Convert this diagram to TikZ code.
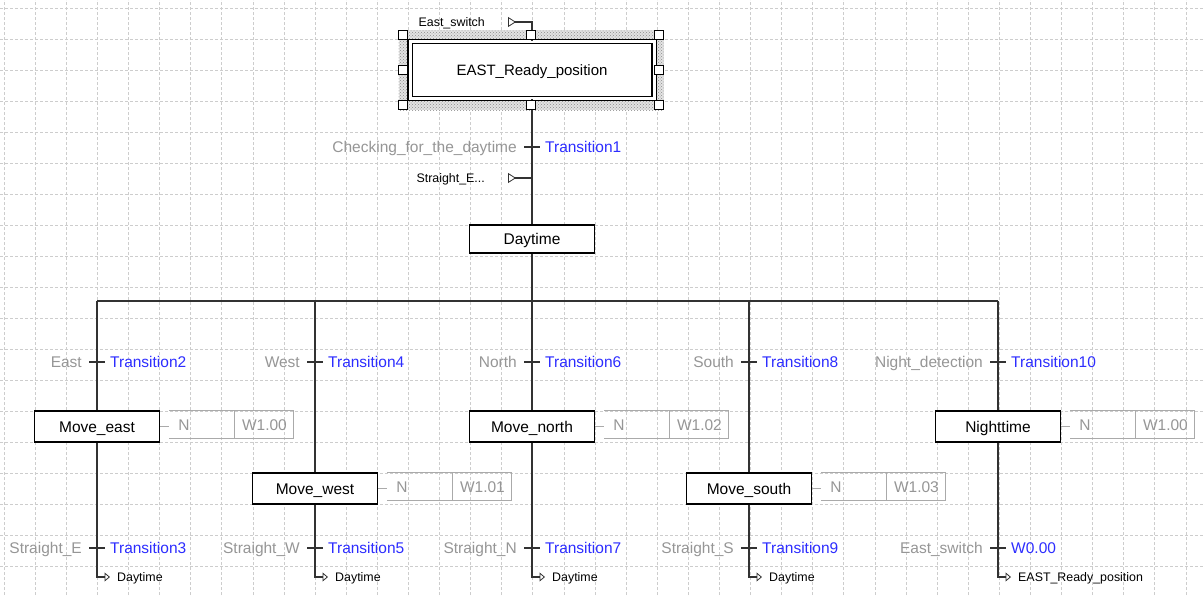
\documentclass[tikz,border=0pt]{standalone}
\usepackage{fontspec}
\setmainfont{Liberation Sans}
\usetikzlibrary{positioning,arrows.meta,patterns}
\definecolor{condgray}{RGB}{150,150,150}
\definecolor{transblue}{RGB}{45,45,255}
\definecolor{wiregray}{RGB}{50,50,50}
\definecolor{gridgray}{RGB}{205,205,205}
\definecolor{actgray}{RGB}{170,170,170}
\begin{document}
\begin{tikzpicture}[
  x=1pt, y=-1pt,
  stepbox/.style={draw=black, fill=white, line width=1.1pt, minimum width=125pt, minimum height=31pt,
    inner sep=0pt, text height=11pt, text depth=0pt, font=\fontsize{15.5}{18}\selectfont},
  initbox/.style={draw=black, fill=white, double=white, double distance=3pt, line width=1.1pt,
    minimum width=244pt, minimum height=57pt, inner sep=0pt, text height=11pt, text depth=0pt,
    font=\fontsize{15}{18}\selectfont},
  selframe/.style={fill=gray!22, postaction={pattern=crosshatch dots, pattern color=gray!90},
    minimum width=265pt, minimum height=80pt, inner sep=0pt},
  handle/.style={draw=black, fill=white, line width=0.8pt, minimum size=9pt, inner sep=0pt},
  wire/.style={draw=wiregray, line width=1.2pt},
  inwire/.style={wire, {Triangle[open, reversed, length=8pt, width=10pt, line width=0.8pt]}-},
  actline/.style={draw=actgray, line width=0.9pt},
  cond/.style={text=condgray, inner sep=0pt, text height=11pt, text depth=0pt, font=\fontsize{15.5}{18}\selectfont},
  trname/.style={cond, text=transblue},
  small/.style={inner sep=0pt, text height=9pt, text depth=0pt, font=\fontsize{12.4}{14}\selectfont},
  jumplbl/.style={small, anchor=west, inner xsep=7pt},
  jump/.style={wire, -{Triangle[open, length=5.5pt, width=9pt, line width=0.8pt]}},
  actq/.style={minimum height=28pt, text width=47pt, inner xsep=9pt, inner ysep=0pt, align=left,
    text=condgray, text height=11pt, text depth=0pt, font=\fontsize{15.5}{18}\selectfont},
  actv/.style={actline, minimum height=28pt, minimum width=59pt, inner sep=0pt, text=condgray,
    text height=11pt, text depth=0pt, font=\fontsize{15.5}{18}\selectfont},
  gridline/.style={gridgray, densely dashed, line width=0.6pt}
]
\fill[white] (0,0) rectangle (1203,595);
\useasboundingbox (0,0) rectangle (1203,595);
\draw[gridline, shift={(4,8)}, xstep=31.1pt, ystep=31pt] (-4,-8) grid (1199,587);

% initial step (selected)
\node[selframe] (sel) at (531,70) {};
\node[initbox] (ready) at (532,70) {EAST\_Ready\_position};
\coordinate (inA) at (508,22);
\node[small, left=23pt of inA] (inAlbl) {East\_switch};

\coordinate (t1) at (532,147);
\node[cond, left=15pt of t1] (c1) {Checking\_for\_the\_daytime};
\node[trname, right=13pt of t1] (n1) {Transition1};
\coordinate (inB) at (508,178);
\node[small, left=23pt of inB] (inBlbl) {Straight\_E...};
\coordinate (joinB) at (532,178);

\node[stepbox, minimum height=28pt] (daytime) at (532,239) {Daytime};

\draw[wire] (ready) -- (daytime);
\draw[inwire] (inA) -| (ready.north);
\draw[inwire] (inB) -- (joinB);
\draw[wire] ([xshift=-8pt]t1) -- ([xshift=8pt]t1);

% selection handles
\node[handle, anchor=north west] (hnw) at (sel.north west) {};
\node[handle, anchor=north] (hn) at (sel.north) {};
\node[handle, anchor=north east] (hne) at (sel.north east) {};
\node[handle, anchor=west] (hw) at (sel.west) {};
\node[handle, anchor=east] (he) at (sel.east) {};
\node[handle, anchor=south west] (hsw) at (sel.south west) {};
\node[handle, anchor=south] (hs) at (sel.south) {};
\node[handle, anchor=south east] (hse) at (sel.south east) {};

% divergence
\coordinate (bus1) at (97,301);
\coordinate (bus2) at (315,301);
\coordinate (bus3) at (532,301);
\coordinate (bus4) at (749,301);
\coordinate (bus5) at (998,301);
\draw[wire] (bus1) -- (bus5);
\draw[wire] (daytime) -- (bus3);

% east
\coordinate (t2) at (97,362);
\node[cond, left=15pt of t2] (c2) {East};
\node[trname, right=13pt of t2] (n2) {Transition2};
\node[stepbox] (moveeast) at (97,426.5) {Move\_east};
\node[actq, right=9pt of moveeast.north east, anchor=north west] (aq1) {N};
\node[actv, right=0pt of aq1] (av1) {W1.00};
\coordinate (t3) at (97,548);
\node[cond, left=15pt of t3] (c3) {Straight\_E};
\node[trname, right=13pt of t3] (n3) {Transition3};
\node[jumplbl] (j1) at (110,577) {Daytime};
\draw[wire] (bus1) -- (moveeast);
\draw[jump] (moveeast) |- (j1.west);
\draw[wire] ([xshift=-8pt]t2) -- ([xshift=8pt]t2);
\draw[wire] ([xshift=-8pt]t3) -- ([xshift=8pt]t3);
\draw[actline] (moveeast) -- (aq1.west |- moveeast);
\draw[actline] (aq1.north west) -- (aq1.north east) (aq1.south west) -- (aq1.south east);

% west
\coordinate (t4) at (315,362);
\node[cond, left=15pt of t4] (c4) {West};
\node[trname, right=13pt of t4] (n4) {Transition4};
\node[stepbox] (movewest) at (315,488.5) {Move\_west};
\node[actq, right=9pt of movewest.north east, anchor=north west] (aq2) {N};
\node[actv, right=0pt of aq2] (av2) {W1.01};
\coordinate (t5) at (315,548);
\node[cond, left=15pt of t5] (c5) {Straight\_W};
\node[trname, right=13pt of t5] (n5) {Transition5};
\node[jumplbl] (j2) at (328,577) {Daytime};
\draw[wire] (bus2) -- (movewest);
\draw[jump] (movewest) |- (j2.west);
\draw[wire] ([xshift=-8pt]t4) -- ([xshift=8pt]t4);
\draw[wire] ([xshift=-8pt]t5) -- ([xshift=8pt]t5);
\draw[actline] (movewest) -- (aq2.west |- movewest);
\draw[actline] (aq2.north west) -- (aq2.north east) (aq2.south west) -- (aq2.south east);

% north
\coordinate (t6) at (532,362);
\node[cond, left=15pt of t6] (c6) {North};
\node[trname, right=13pt of t6] (n6) {Transition6};
\node[stepbox] (movenorth) at (532,426.5) {Move\_north};
\node[actq, right=9pt of movenorth.north east, anchor=north west] (aq3) {N};
\node[actv, right=0pt of aq3] (av3) {W1.02};
\coordinate (t7) at (532,548);
\node[cond, left=15pt of t7] (c7) {Straight\_N};
\node[trname, right=13pt of t7] (n7) {Transition7};
\node[jumplbl] (j3) at (545,577) {Daytime};
\draw[wire] (bus3) -- (movenorth);
\draw[jump] (movenorth) |- (j3.west);
\draw[wire] ([xshift=-8pt]t6) -- ([xshift=8pt]t6);
\draw[wire] ([xshift=-8pt]t7) -- ([xshift=8pt]t7);
\draw[actline] (movenorth) -- (aq3.west |- movenorth);
\draw[actline] (aq3.north west) -- (aq3.north east) (aq3.south west) -- (aq3.south east);

% south
\coordinate (t8) at (749,362);
\node[cond, left=15pt of t8] (c8) {South};
\node[trname, right=13pt of t8] (n8) {Transition8};
\node[stepbox] (movesouth) at (749,488.5) {Move\_south};
\node[actq, right=9pt of movesouth.north east, anchor=north west] (aq4) {N};
\node[actv, right=0pt of aq4] (av4) {W1.03};
\coordinate (t9) at (749,548);
\node[cond, left=15pt of t9] (c9) {Straight\_S};
\node[trname, right=13pt of t9] (n9) {Transition9};
\node[jumplbl] (j4) at (762,577) {Daytime};
\draw[wire] (bus4) -- (movesouth);
\draw[jump] (movesouth) |- (j4.west);
\draw[wire] ([xshift=-8pt]t8) -- ([xshift=8pt]t8);
\draw[wire] ([xshift=-8pt]t9) -- ([xshift=8pt]t9);
\draw[actline] (movesouth) -- (aq4.west |- movesouth);
\draw[actline] (aq4.north west) -- (aq4.north east) (aq4.south west) -- (aq4.south east);

% night
\coordinate (t10) at (998,362);
\node[cond, left=15pt of t10] (c10) {Night\_detection};
\node[trname, right=13pt of t10] (n10) {Transition10};
\node[stepbox] (nighttime) at (998,426.5) {Nighttime};
\node[actq, right=9pt of nighttime.north east, anchor=north west] (aq5) {N};
\node[actv, right=0pt of aq5] (av5) {W1.00};
\coordinate (t11) at (998,548);
\node[cond, left=15pt of t11] (c11) {East\_switch};
\node[trname, right=13pt of t11] (n11) {W0.00};
\node[jumplbl] (j5) at (1011,577) {EAST\_Ready\_position};
\draw[wire] (bus5) -- (nighttime);
\draw[jump] (nighttime) |- (j5.west);
\draw[wire] ([xshift=-8pt]t10) -- ([xshift=8pt]t10);
\draw[wire] ([xshift=-8pt]t11) -- ([xshift=8pt]t11);
\draw[actline] (nighttime) -- (aq5.west |- nighttime);
\draw[actline] (aq5.north west) -- (aq5.north east) (aq5.south west) -- (aq5.south east);
\end{tikzpicture}
\end{document}
